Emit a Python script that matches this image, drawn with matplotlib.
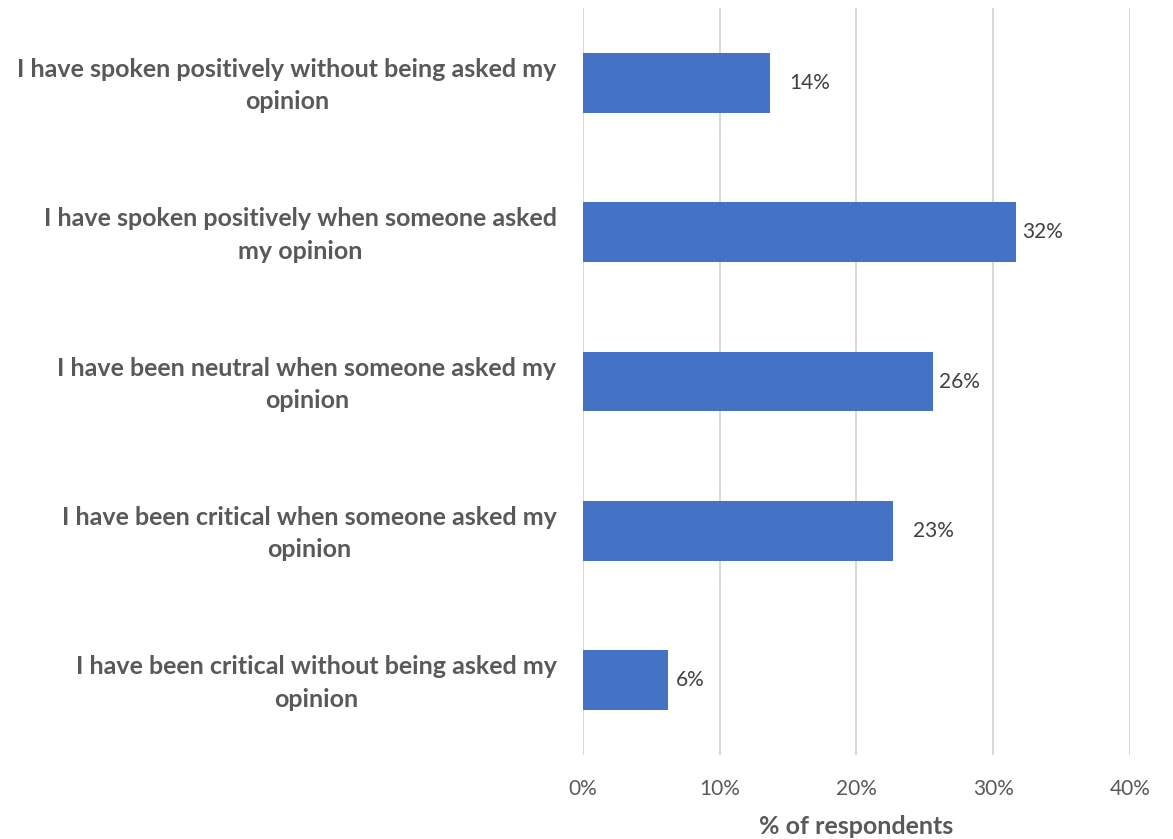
import matplotlib
matplotlib.use("Agg")
import matplotlib.pyplot as plt
from matplotlib.ticker import FuncFormatter

plt.rcParams["font.family"] = ["Lato", "DejaVu Sans"]

# survey responses, top to bottom
categories = [
    "I have spoken positively without being asked my\nopinion",
    "I have spoken positively when someone asked\nmy opinion",
    "I have been neutral when someone asked my\nopinion",
    "I have been critical when someone asked my\nopinion",
    "I have been critical without being asked my\nopinion",
]
shares = [13.7, 31.7, 25.6, 22.7, 6.2]
label_gap = [14, 4, 4, 14, 6]   # points between bar end and its label
x_ticks = [0, 10, 20, 30, 40]

BAR = "#4472C4"
GRID = "#D9D9D9"
TEXT = "#595959"

fig = plt.figure(figsize=(11.73, 8.39), dpi=100)
ax = fig.add_axes([0.497, 0.1001, 0.4663, 0.8903])

y = list(range(len(categories)))[::-1]
ax.barh(y, shares, height=0.4, color=BAR, zorder=3)

for yi, v, gap in zip(y, shares, label_gap):
    ax.annotate(f"{v:.0f}%", (v, yi), xytext=(gap, 0), textcoords="offset points",
                ha="left", va="center", fontsize=15, color="#404040")

# category labels drawn as text, two centred lines beside each bar
for yi, cat in zip(y, categories):
    ax.annotate(cat, (0, yi), xytext=(-19, -2), textcoords="offset points",
                ha="right", va="center", multialignment="center",
                fontsize=18, fontweight="bold", color=TEXT, linespacing=1.5)

ax.set_xlim(0, 40)
ax.set_ylim(-0.5, len(categories) - 0.5)
ax.set_xticks(x_ticks)
ax.xaxis.set_major_formatter(FuncFormatter(lambda v, _: f"{v:.0f}%"))
ax.set_yticks([])
ax.tick_params(axis="x", length=0, pad=17, labelsize=15, labelcolor=TEXT)
ax.grid(axis="x", color=GRID, linewidth=1.5, zorder=0)
for s in ax.spines.values():
    s.set_visible(False)

ax.set_xlabel("% of respondents", fontsize=18, fontweight="bold", color=TEXT,
              labelpad=12)

fig.savefig("out.png", dpi=100)
